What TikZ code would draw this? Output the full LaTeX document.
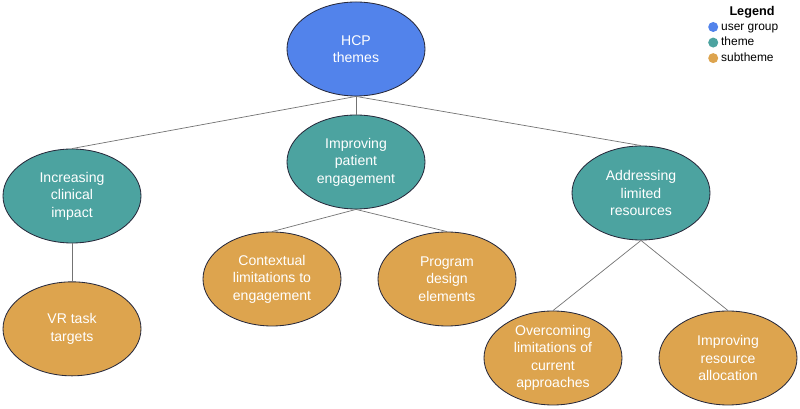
\documentclass[tikz,border=0pt]{standalone}
\usepackage{fontspec}
\setmainfont{Liberation Sans}
\usepackage{tikz}
\usetikzlibrary{shapes.geometric,positioning}
\definecolor{usergroup}{RGB}{82,131,235}
\definecolor{themeteal}{RGB}{76,163,160}
\definecolor{subtheme}{RGB}{221,164,78}
\definecolor{outline}{RGB}{40,42,60}
\definecolor{edgegray}{RGB}{115,115,115}

\begin{document}
\begin{tikzpicture}
\tikzstyle{bubble} = [ellipse, minimum width=3.45cm, minimum height=2.35cm, draw=outline, line width=0.6pt, text=white, align=center, font=\fontsize{10}{12.4}\selectfont, inner sep=0pt]
\tikzstyle{root} = [bubble, fill=usergroup]
\tikzstyle{theme} = [bubble, fill=themeteal]
\tikzstyle{sub} = [bubble, fill=subtheme]
\tikzstyle{link} = [draw=edgegray, line width=0.5pt]
\tikzstyle{dot} = [circle, inner sep=0pt, minimum size=0.25cm]
\tikzstyle{key} = [anchor=west, font=\fontsize{8.5}{10}\selectfont, inner sep=0pt, text height=6.2pt, text depth=1.8pt]

\useasboundingbox (0,0) rectangle (20,10.225);

% root and themes
\node (hcp) [root] at (8.9,9.0) {HCP\\themes};
\node (clinical) [theme] at (1.8,5.325) {Increasing\\clinical\\impact};
\node (engage) [theme] at (8.9,6.175) {Improving\\patient\\engagement};
\node (resources) [theme] at (16.025,5.4) {Addressing\\limited\\resources};

% subthemes
\node (vrtask) [sub, below=0.95cm of clinical] {VR task\\targets};
\node (context) [sub] at (6.8,3.25) {Contextual\\limitations to\\engagement};
\node (design) [sub] at (11.175,3.25) {Program\\design\\elements};
\node (overcome) [sub] at (13.825,1.275) {Overcoming\\limitations of\\current\\approaches};
\node (allocate) [sub] at (18.2,1.275) {Improving\\resource\\allocation};

\draw [link] (hcp.south) -- (clinical.north);
\draw [link] (hcp.south) -- (engage.north);
\draw [link] (hcp.south) -- (resources.north);
\draw [link] (clinical.south) -- (vrtask.north);
\draw [link] (engage.south) -- (context.north);
\draw [link] (engage.south) -- (design.north);
\draw [link] (resources.south) -- (overcome.north);
\draw [link] (resources.south) -- (allocate.north);

% legend
\node (legend) [font=\fontsize{9}{10}\selectfont\bfseries, inner sep=0pt] at (18.8,9.93) {Legend};
\node (dotuser) [dot, fill=usergroup] at (17.83,9.55) {};
\node (dottheme) [dot, fill=themeteal, below=0.125cm of dotuser] {};
\node (dotsub) [dot, fill=subtheme, below=0.125cm of dottheme] {};
\node (keyuser) [key, right=0.06cm of dotuser] {user group};
\node (keytheme) [key, right=0.06cm of dottheme] {theme};
\node (keysub) [key, right=0.06cm of dotsub] {subtheme};
\end{tikzpicture}
\end{document}
